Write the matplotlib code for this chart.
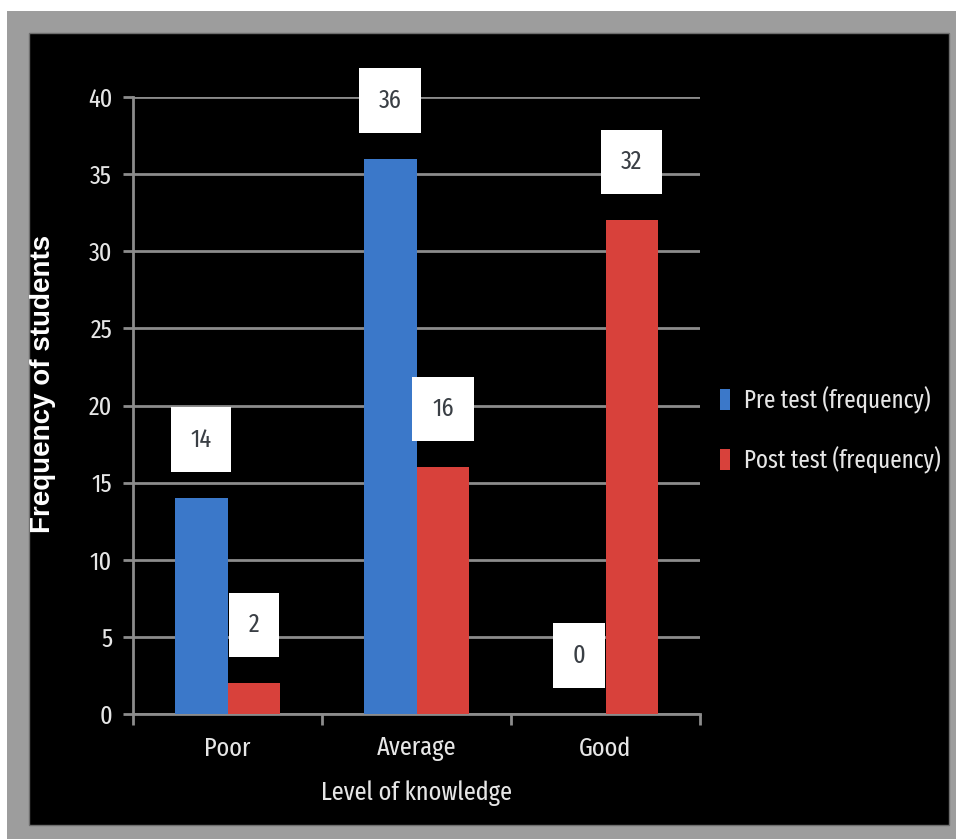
import numpy as np
import matplotlib
matplotlib.use('Agg')
import matplotlib.pyplot as plt
from matplotlib.patches import Rectangle

# knowledge levels and frequencies
levels = ['Poor', 'Average', 'Good']
pre_test = [14, 36, 0]
post_test = [2, 16, 32]
series_names = ['Pre test (frequency)', 'Post test (frequency)']
y_ticks = [0, 5, 10, 15, 20, 25, 30, 35, 40]

plt.rcParams['font.family'] = ['Fira Sans Extra Condensed', 'DejaVu Sans']

blue = '#3b78c9'
red = '#d8413b'
txt = '#e6e6e6'
grid_col = '#8c8c8c'

fig = plt.figure(figsize=(9.56, 8.39), dpi=100)
fig.patch.set_facecolor('#9d9d9d')

# white strips at the top and left edge, then the black panel
bg = fig.add_axes([0, 0, 1, 1], zorder=-10)
bg.set_xlim(0, 956)
bg.set_ylim(839, 0)
bg.axis('off')
bg.add_patch(Rectangle((0, 0), 956, 11, fc='white', ec='none'))
bg.add_patch(Rectangle((0, 0), 7, 839, fc='white', ec='none'))
bg.add_patch(Rectangle((29, 33), 920, 792, fc='black', ec='#6e6e6e', lw=1))

ax = fig.add_axes([133 / 956, 125 / 839, 567 / 956, 617 / 839], zorder=1)
ax.set_facecolor('black')

x = np.arange(len(levels))
w = 0.28
b1 = ax.bar(x - w / 2, pre_test, w, color=blue, label=series_names[0], zorder=3)
b2 = ax.bar(x + w / 2, post_test, w, color=red, label=series_names[1], zorder=3)

# value labels in white boxes above each bar
for bars, vals in ((b1, pre_test), (b2, post_test)):
    for rect, v in zip(bars, vals):
        ax.annotate(str(v), xy=(rect.get_x() + rect.get_width() / 2, v),
                    xytext=(0, 42), textcoords='offset points',
                    ha='center', va='center', fontsize=19, color='#3a3f45',
                    bbox=dict(boxstyle='square,pad=0.75', fc='white', ec='none'),
                    zorder=5)

ax.set_xlim(-0.5, 2.5)
ax.set_ylim(0, 40)
ax.set_yticks(y_ticks)
ax.set_xticks(x)
ax.set_xticklabels(levels)
ax.set_xticks([-0.5, 0.5, 1.5, 2.5], minor=True)
ax.tick_params(axis='x', which='major', length=0, labelcolor=txt, labelsize=19, pad=16)
ax.tick_params(axis='x', which='minor', length=8, width=2, color=grid_col)
ax.tick_params(axis='y', length=7, width=2, color=grid_col, labelcolor=txt, labelsize=19, pad=8)

ax.yaxis.grid(True, color=grid_col, linewidth=2, zorder=0)
ax.set_axisbelow(True)
for s in ('top', 'right'):
    ax.spines[s].set_visible(False)
for s in ('left', 'bottom'):
    ax.spines[s].set_color(grid_col)
    ax.spines[s].set_linewidth(2)

ax.set_xlabel('Level of knowledge', color=txt, fontsize=19, labelpad=14)
ax.set_ylabel('Frequency of students', color='white', fontsize=20, fontweight='bold',
              family=['Liberation Sans', 'DejaVu Sans'])
ax.yaxis.set_label_coords(-0.135, 0.535)

leg = ax.legend(loc='center left', bbox_to_anchor=(697 / 956, 1 - 430 / 839),
                bbox_transform=fig.transFigure, frameon=False, fontsize=18,
                labelcolor=txt, handlelength=0.4, handleheight=0.9,
                handletextpad=0.6, labelspacing=1.3)

plt.savefig('out.png', dpi=100, facecolor=fig.get_facecolor())
